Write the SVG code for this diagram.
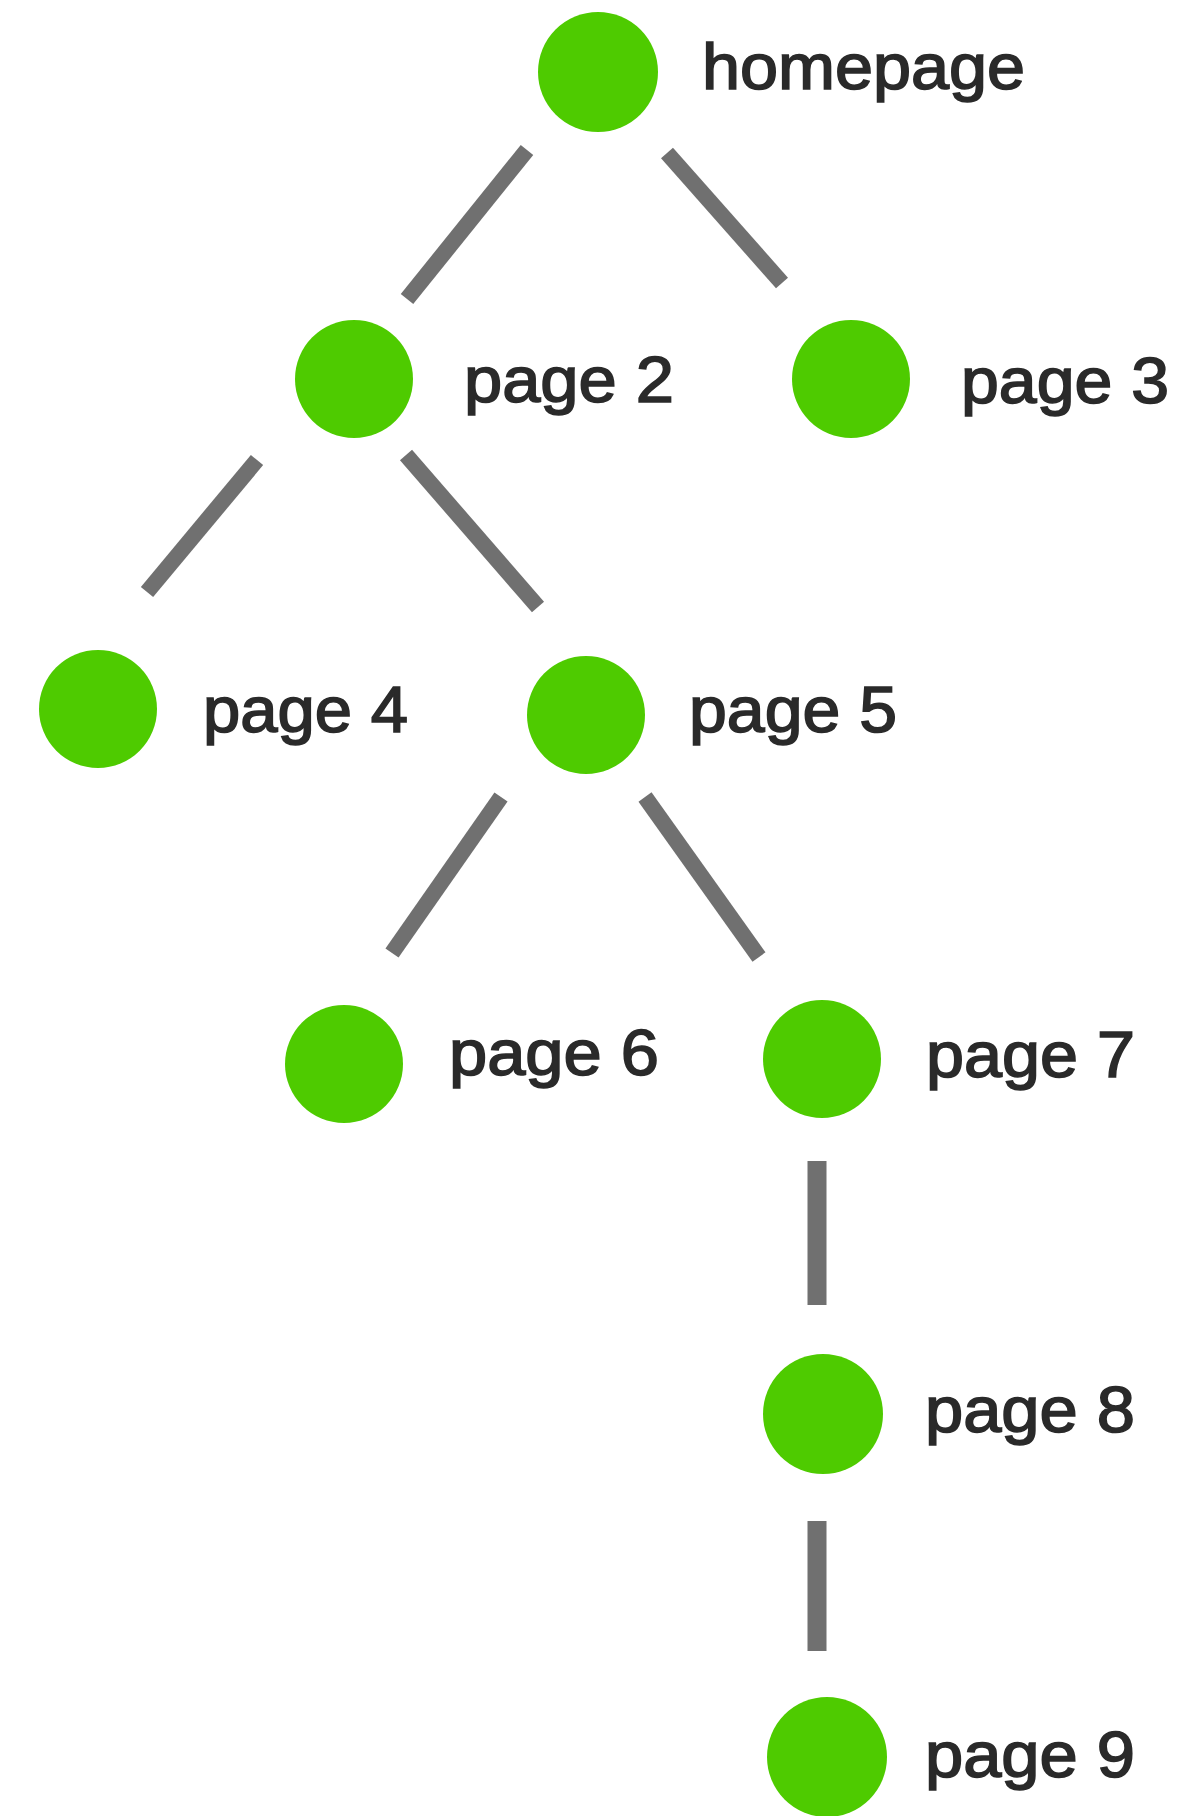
<svg xmlns="http://www.w3.org/2000/svg" width="1189" height="1816" viewBox="0 0 1189 1816">
<style>
.node circle{fill:#4ecb00}
.node text{font-family:"Liberation Sans",Arial,sans-serif;font-size:64px;fill:#2a2a2a;stroke:#2a2a2a;stroke-width:1.6px}
.edge{stroke:#707070;stroke-width:16;stroke-linecap:butt;fill:none}
.v{stroke-width:19}
</style>
<rect width="1189" height="1816" fill="#ffffff"/>
<g id="connectors">
<line class="edge" x1="527" y1="150" x2="407" y2="299"/>
<line class="edge" x1="667" y1="153" x2="782" y2="283"/>
<line class="edge" x1="257" y1="460" x2="147" y2="592"/>
<line class="edge" x1="406" y1="455" x2="538" y2="607"/>
<line class="edge" x1="501" y1="797" x2="392" y2="953"/>
<line class="edge" x1="645" y1="797" x2="759" y2="957"/>
<line class="edge v" x1="817" y1="1161" x2="817" y2="1305"/>
<line class="edge v" x1="817" y1="1521" x2="817" y2="1651"/>
</g>
<g id="homepage" class="node"><circle cx="598" cy="72" r="60"/><text x="702" y="89" textLength="323" lengthAdjust="spacingAndGlyphs">homepage</text></g>
<g id="page2" class="node"><circle cx="354" cy="379" r="59"/><text x="464" y="402" textLength="210" lengthAdjust="spacingAndGlyphs">page 2</text></g>
<g id="page3" class="node"><circle cx="851" cy="379" r="59"/><text x="961" y="403" textLength="208" lengthAdjust="spacingAndGlyphs">page 3</text></g>
<g id="page4" class="node"><circle cx="98" cy="709" r="59"/><text x="203" y="732" textLength="205" lengthAdjust="spacingAndGlyphs">page 4</text></g>
<g id="page5" class="node"><circle cx="586" cy="715" r="59"/><text x="689" y="732" textLength="208" lengthAdjust="spacingAndGlyphs">page 5</text></g>
<g id="page6" class="node"><circle cx="344" cy="1064" r="59"/><text x="449" y="1075" textLength="210" lengthAdjust="spacingAndGlyphs">page 6</text></g>
<g id="page7" class="node"><circle cx="822" cy="1059" r="59"/><text x="926" y="1077" textLength="209" lengthAdjust="spacingAndGlyphs">page 7</text></g>
<g id="page8" class="node"><circle cx="823" cy="1414" r="60"/><text x="925" y="1432" textLength="210" lengthAdjust="spacingAndGlyphs">page 8</text></g>
<g id="page9" class="node"><circle cx="827" cy="1757" r="60"/><text x="925" y="1777" textLength="210" lengthAdjust="spacingAndGlyphs">page 9</text></g>
</svg>
